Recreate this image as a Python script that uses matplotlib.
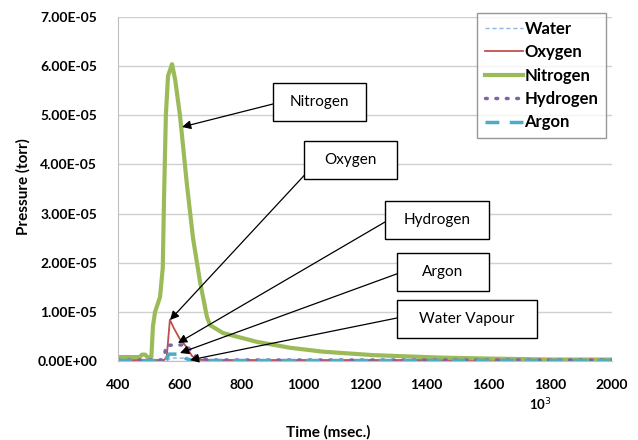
import matplotlib
matplotlib.use('Agg')
import matplotlib.pyplot as plt
from matplotlib.patches import Rectangle
from matplotlib.ticker import FuncFormatter

plt.rcParams['font.family'] = ['Lato', 'DejaVu Sans']

# time in msec (axis carries a 10^3 multiplier), pressure in units of 1e-5 torr
t_n2 = [400, 470, 478, 488, 495, 508, 513, 520, 536, 545, 549, 555, 562, 575, 585, 601,
        623, 643, 666, 688, 698, 740, 850, 957, 1064, 1226, 1443, 1600, 1800, 2000]
p_n2 = [0.08, 0.08, 0.13, 0.13, 0.08, 0.08, 0.7, 1.0, 1.3, 1.9, 3.3, 5.0, 5.8, 6.04, 5.73, 4.98,
        3.6, 2.5, 1.6, 0.9, 0.73, 0.57, 0.39, 0.27, 0.19, 0.12, 0.07, 0.05, 0.03, 0.03]

t_o2 = [400, 550, 558, 568, 580, 600, 620, 640, 660, 700, 2000]
p_o2 = [0.02, 0.02, 0.1, 0.84, 0.68, 0.45, 0.3, 0.1, 0.03, 0.02, 0.02]

t_h2 = [400, 540, 550, 556, 620, 640, 660, 700, 2000]
p_h2 = [0.02, 0.02, 0.1, 0.32, 0.33, 0.18, 0.05, 0.02, 0.02]

t_ar = [400, 555, 565, 610, 620, 640, 2000]
p_ar = [0.01, 0.01, 0.14, 0.14, 0.05, 0.01, 0.01]

t_h2o = [400, 560, 570, 620, 640, 2000]
p_h2o = [0.01, 0.01, 0.06, 0.06, 0.01, 0.01]

scale = 1e-5

fig = plt.figure(figsize=(6.38, 4.40), dpi=100)
ax = fig.add_axes([0.185, 0.1795, 0.774, 0.782])

ax.plot(t_h2o, [v * scale for v in p_h2o], color='#8DB4E2', lw=1.0, ls=(0, (3, 2)), label='Water')
ax.plot(t_o2, [v * scale for v in p_o2], color='#C0504D', lw=1.3, label='Oxygen')
ax.plot(t_n2, [v * scale for v in p_n2], color='#9BBB59', lw=3.0, label='Nitrogen')
ax.plot(t_h2, [v * scale for v in p_h2], color='#8064A2', lw=2.5, ls=(0, (0.5, 2.5)),
        dash_capstyle='round', label='Hydrogen')
ax.plot(t_ar, [v * scale for v in p_ar], color='#4BACC6', lw=2.5, ls=(0, (4, 3)), label='Argon')

ax.set_xlim(400, 2000)
ax.set_ylim(0, 7e-5)
ax.set_xticks(range(400, 2001, 200))
ax.set_yticks([i * 1e-5 for i in range(8)])
ax.yaxis.set_major_formatter(FuncFormatter(lambda v, p: f'{v:.2E}'))
ax.grid(axis='y', color='#D0D0D0', lw=1)
ax.set_axisbelow(True)
for s in ['top', 'right']:
    ax.spines[s].set_visible(False)
ax.spines['left'].set_color('#BFBFBF')
ax.spines['bottom'].set_color('#BFBFBF')
ax.tick_params(axis='x', length=0, labelsize=10, pad=13)
ax.tick_params(axis='y', length=0, labelsize=10, pad=15)
for lab in ax.get_xticklabels() + ax.get_yticklabels():
    lab.set_fontweight('bold')

fig.text(0.036, 0.575, 'Pressure (torr)', rotation=90, ha='center', va='center',
         fontsize=11, fontweight='bold')
fig.text(0.514, 0.018, 'Time (msec.)', ha='center', va='center', fontsize=11, fontweight='bold')
fig.text(0.847, 0.08, '10$^3$', ha='center', va='center', fontsize=9.5, fontweight='bold')

leg = ax.legend(loc='upper left', bbox_to_anchor=(477 / 638, 1 - 13 / 440),
                bbox_transform=fig.transFigure, frameon=True, fancybox=False,
                handlelength=2.3, handletextpad=0.1, labelspacing=0.45,
                borderpad=0.45, borderaxespad=0, prop={'weight': 'bold', 'size': 12})
leg.get_frame().set_edgecolor('#7F7F7F')
leg.get_frame().set_linewidth(1.0)

W, H = 638.0, 440.0
# annotation boxes: (text, box left/top/right/bottom px, arrow tail px, arrow head px)
notes = [
    ('Nitrogen', (273, 83, 366, 121), (273, 104), (182, 127)),
    ('Oxygen', (304, 141, 397, 179), (312, 167), (170, 320)),
    ('Hydrogen', (385, 201, 489, 239), (385, 222), (178, 343)),
    ('Argon', (397, 253, 489, 291), (402, 272), (180, 353)),
    ('Water Vapour', (397, 300, 537, 338), (397, 318), (190, 360)),
]

def fp(p):
    return (p[0] / W, 1 - p[1] / H)

for txt, (l, t, r, b), tail, head in notes:
    fig.patches.append(Rectangle((l / W, 1 - b / H), (r - l) / W, (b - t) / H,
                                 transform=fig.transFigure, fc='white', ec='black',
                                 lw=1.0, zorder=5))
    fig.text((l + r) / 2 / W, 1 - (t + b) / 2 / H, txt, ha='center', va='center',
             fontsize=11, zorder=6)
    ax.annotate('', xy=fp(head), xytext=fp(tail), xycoords='figure fraction',
                textcoords='figure fraction', zorder=7,
                arrowprops=dict(arrowstyle='-|>', color='black', lw=0.9,
                                mutation_scale=13, shrinkA=0, shrinkB=0))

fig.savefig('out.png', dpi=100)
